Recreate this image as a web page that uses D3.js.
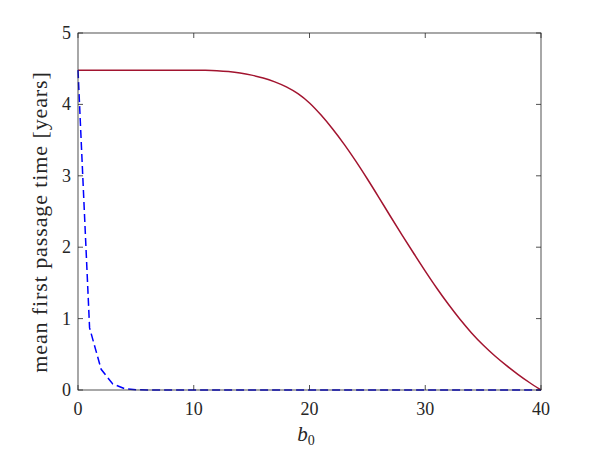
<!DOCTYPE html>
<html><head><meta charset="utf-8">
<script src="https://cdn.jsdelivr.net/npm/d3@7"></script>
<style>body{margin:0;background:#fff}svg{display:block}</style>
</head><body>
<svg id="c" width="599" height="450"></svg>
<script>
const b0 = d3.range(0, 41);
const redValues = [4.48,4.48,4.48,4.48,4.48,4.48,4.48,4.48,4.48,4.48,4.48,
  4.478,4.472,4.46,4.44,4.41,4.37,4.315,4.245,4.15,4.02,
  3.85,3.655,3.44,3.205,2.955,2.695,2.43,2.17,1.915,1.665,
  1.425,1.20,0.99,0.80,0.63,0.48,0.345,0.22,0.105,0.0];
const blueValues = [4.48,0.87,0.29,0.085,0.02,0.004,0,0,0,0,0,
  0,0,0,0,0,0,0,0,0,0,0,0,0,0,0,0,0,0,0,0,0,0,0,0,0,0,0,0,0,0];
const xTicks = [0,10,20,30,40];
const yTicks = [0,1,2,3,4,5];
const xLabel = "b";
const yLabel = "mean first passage time [years]";

const svg = d3.select("#c");
const L=78, T=33, R=541, B=390;
const x = d3.scaleLinear().domain([0,40]).range([L,R]);
const y = d3.scaleLinear().domain([0,5]).range([B,T]);
const axisColor = "#262626";
const font = "'Liberation Serif','DejaVu Serif',serif";

svg.append("path").datum(redValues)
  .attr("d", d3.line().x((d,i)=>x(b0[i])).y(d=>y(d)).curve(d3.curveMonotoneX))
  .attr("fill","none").attr("stroke","#A2142F").attr("stroke-width",1.5);
svg.append("path").datum(blueValues)
  .attr("d", d3.line().x((d,i)=>x(b0[i])).y(d=>y(d)))
  .attr("fill","none").attr("stroke","#0000FF").attr("stroke-width",1.5)
  .attr("stroke-dasharray","8,4");

// axes
const g = svg.append("g").attr("stroke",axisColor).attr("stroke-width",0.8).attr("fill","none");
g.append("rect").attr("x",L).attr("y",T).attr("width",R-L).attr("height",B-T);
xTicks.forEach(t=>{
  g.append("line").attr("x1",x(t)).attr("x2",x(t)).attr("y1",B).attr("y2",B-5);
  g.append("line").attr("x1",x(t)).attr("x2",x(t)).attr("y1",T).attr("y2",T+5);
});
yTicks.forEach(t=>{
  g.append("line").attr("x1",L).attr("x2",L+5).attr("y1",y(t)).attr("y2",y(t));
  g.append("line").attr("x1",R).attr("x2",R-5).attr("y1",y(t)).attr("y2",y(t));
});
svg.selectAll(".xt").data(xTicks).enter().append("text")
  .attr("x",d=>x(d)).attr("y",415).attr("text-anchor","middle")
  .attr("font-family",font).attr("font-size",18).attr("fill",axisColor).text(d=>d);
svg.selectAll(".yt").data(yTicks).enter().append("text")
  .attr("x",71).attr("y",d=>y(d)+6).attr("text-anchor","end")
  .attr("font-family",font).attr("font-size",18).attr("fill",axisColor).text(d=>d);
const xl = svg.append("text").attr("x",306).attr("y",441).attr("text-anchor","middle")
  .attr("font-family",font).attr("font-size",21).attr("fill",axisColor);
xl.append("tspan").attr("font-style","italic").text(xLabel);
xl.append("tspan").attr("font-size",14).attr("dy",4).text("0");
svg.append("text").attr("transform","translate(47,222) rotate(-90)")
  .attr("text-anchor","middle").attr("font-family",font).attr("font-size",22)
  .attr("letter-spacing",0.9)
  .attr("fill",axisColor).text(yLabel);
</script>
</body></html>
